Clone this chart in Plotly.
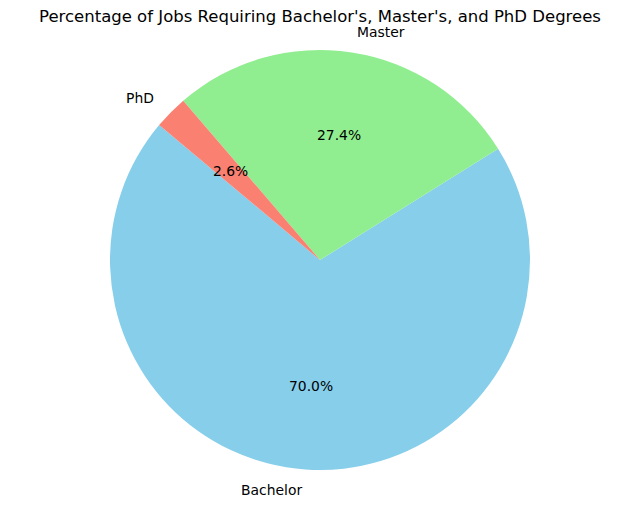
import math
import plotly.graph_objects as go

labels = ["Bachelor", "Master", "PhD"]
values = [70.0, 27.4, 2.6]
colors = ["#87CEEB", "#90EE90", "#FA8072"]
start_angle = 140  # degrees, counterclockwise from 3 o'clock

W, H = 640, 508
cx, cy, r = 320, 260, 210  # pie centre and radius in pixels

total = sum(values)
# plotly puts the clockwise edge of the first slice at `rotation` (clockwise from 12)
rot = 90 - start_angle - values[0] / total * 360
rot = (rot + 360) % 360
if rot > 180:
    rot -= 360

fig = go.Figure(go.Pie(
    labels=labels, values=values, sort=False, direction="counterclockwise",
    rotation=rot, marker=dict(colors=colors), textinfo="none",
    showlegend=False, hoverinfo="label+percent",
    domain=dict(x=[(cx - r) / W, (cx + r) / W], y=[(H - cy - r) / H, (H - cy + r) / H]),
))

# matplotlib-style labels: names at 1.1 r, percentages at 0.6 r
ang = start_angle
for lab, v in zip(labels, values):
    span = v / total * 360
    mid = math.radians(ang + span / 2)
    ang += span
    dx, dy = math.cos(mid), math.sin(mid)
    fig.add_annotation(
        x=(cx + 1.1 * r * dx) / W, y=(H - cy + 1.1 * r * dy) / H,
        xref="paper", yref="paper", text=lab, showarrow=False,
        xanchor="left" if dx > 0 else "right", yanchor="middle",
        font=dict(family="DejaVu Sans", size=13.9, color="black"),
    )
    fig.add_annotation(
        x=(cx + 0.6 * r * dx) / W, y=(H - cy + 0.6 * r * dy) / H,
        xref="paper", yref="paper", text=f"{v / total * 100:.1f}%", showarrow=False,
        xanchor="center", yanchor="middle",
        font=dict(family="DejaVu Sans", size=13.9, color="black"),
    )

fig.update_layout(
    width=W, height=H,
    margin=dict(l=0, r=0, t=0, b=0),
    paper_bgcolor="white",
    title=dict(text="Percentage of Jobs Requiring Bachelor's, Master's, and PhD Degrees",
               x=0.5, xanchor="center", y=1 - 16 / H, yanchor="middle",
               font=dict(family="DejaVu Sans", size=16.5, color="black")),
)
fig.write_html("out.html", config={"displayModeBar": False},
               post_script="document.body.style.margin='0';")
